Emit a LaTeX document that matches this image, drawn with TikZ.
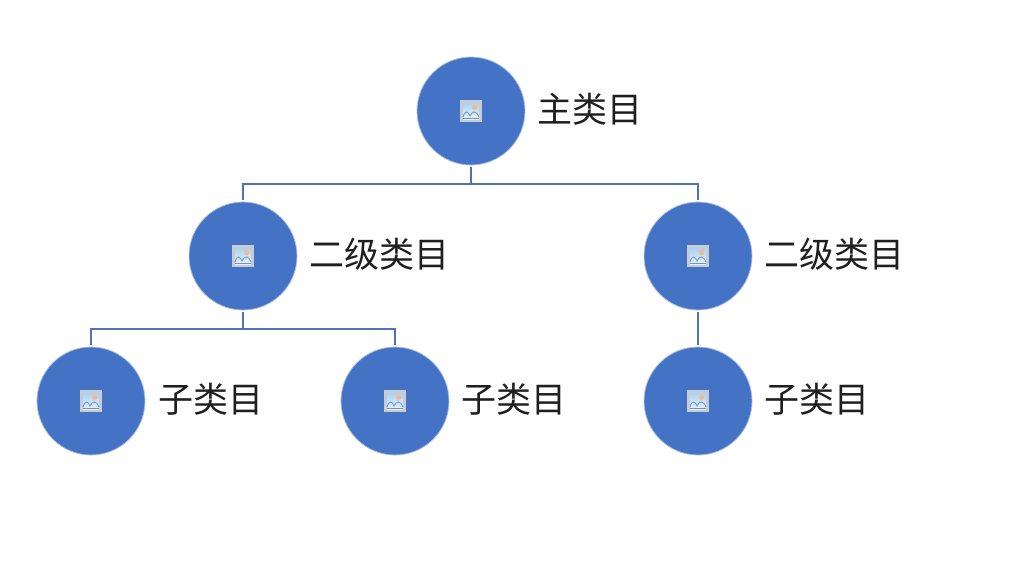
\documentclass[tikz,border=0pt]{standalone}
\usepackage{fontspec}
\newfontfamily\cjk{Noto Sans CJK SC}
\definecolor{fillblue}{HTML}{4472C4}
\definecolor{edgeblue}{HTML}{A9BEE4}
\definecolor{linkblue}{HTML}{4F73B4}
\definecolor{skytop}{HTML}{A9D3F2}
\definecolor{skybot}{HTML}{E6F1FA}
\definecolor{framegrey}{HTML}{C8CCD2}
\definecolor{sunorange}{HTML}{F6B98F}
\definecolor{hillblue}{HTML}{6F93CC}
\tikzset{
  x=1pt,y=-1pt,
  cat/.style={circle,fill=fillblue,draw=edgeblue,line width=0.8pt,minimum size=108pt,inner sep=0pt},
  lbl/.style={anchor=west,inner sep=0pt,font=\cjk\fontsize{35}{38}\selectfont,text=black!88},
  link/.style={draw=linkblue,line width=2pt},
  pics/photo/.style={code={
    \fill[framegrey] (-11,-11) rectangle (11,11);
    \shade[top color=skytop,bottom color=skybot] (-8,-8) rectangle (8,8);
    \fill[sunorange] (3.5,-3.5) circle (2.6);
    \draw[hillblue,line width=0.8pt] (-8,6) .. controls (-6,-1) and (-3,0) .. (-1,5) .. controls (1,0) and (5,-1) .. (8,6);
    \draw[hillblue,line width=0.8pt] (-8,7) -- (8,7);
  }}
}
\begin{document}
\begin{tikzpicture}
\useasboundingbox (0,0) rectangle (1024,582);
\node[cat] (top) at (471,111) {};
\node[cat] (midl) at (243,256) {};
\node[cat] (midr) at (698,256) {};
\node[cat] (leafa) at (91,401) {};
\node[cat] (leafb) at (395,401) {};
\node[cat] (leafc) at (698,401) {};
\foreach \n in {top,midl,midr,leafa,leafb,leafc} \pic at (\n) {photo};
\node[lbl] (ttop) at (537.5,109) {主类目};
\node[lbl] (tmidl) at (309.5,254) {二级类目};
\node[lbl] (tmidr) at (764.5,254) {二级类目};
\node[lbl] (tleafa) at (158.5,399) {子类目};
\node[lbl] (tleafb) at (461.5,399) {子类目};
\node[lbl] (tleafc) at (764.5,399) {子类目};
\coordinate (bus1) at (top|-0,184);
\coordinate (bus2) at (midl|-0,329);
\draw[link] ([yshift=-2pt]top.south) -- (bus1);
\draw[link] ([yshift=2pt]midl.north) -- (midl|-bus1) -- (midr|-bus1) -- ([yshift=2pt]midr.north);
\draw[link] ([yshift=-2pt]midl.south) -- (bus2);
\draw[link] ([yshift=2pt]leafa.north) -- (leafa|-bus2) -- (leafb|-bus2) -- ([yshift=2pt]leafb.north);
\draw[link] ([yshift=-2pt]midr.south) -- ([yshift=2pt]leafc.north);
\end{tikzpicture}
\end{document}
